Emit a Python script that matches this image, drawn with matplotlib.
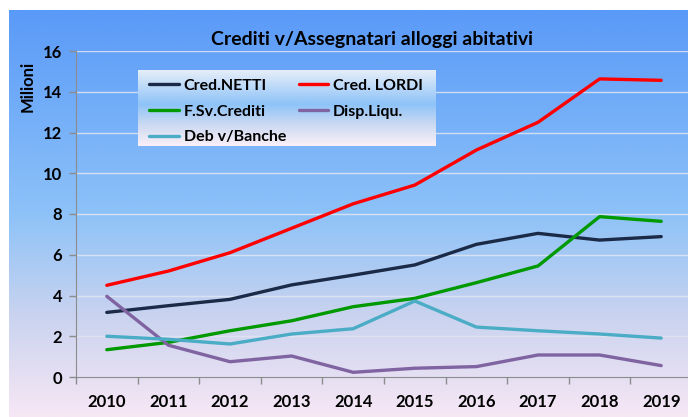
import numpy as np
import matplotlib
matplotlib.use("Agg")
import matplotlib.pyplot as plt
from matplotlib.colors import LinearSegmentedColormap

plt.rcParams['font.family'] = ['Lato', 'DejaVu Sans']

# --- data (milioni) ---
years = ["2010", "2011", "2012", "2013", "2014", "2015", "2016", "2017", "2018", "2019"]
cred_netti = [3.17, 3.5, 3.81, 4.52, 5.0, 5.5, 6.51, 7.05, 6.72, 6.89]
cred_lordi = [4.5, 5.2, 6.1, 7.3, 8.5, 9.42, 11.14, 12.5, 14.63, 14.56]
fsv_crediti = [1.34, 1.7, 2.27, 2.76, 3.45, 3.86, 4.63, 5.45, 7.87, 7.64]
disp_liqu = [3.96, 1.56, 0.75, 1.03, 0.23, 0.43, 0.51, 1.08, 1.08, 0.56]
deb_banche = [2.0, 1.85, 1.62, 2.11, 2.37, 3.73, 2.45, 2.27, 2.11, 1.91]

series = [
    ("Cred.NETTI", cred_netti, "#1B2A47"),
    ("Cred. LORDI", cred_lordi, "#FF0000"),
    ("F.Sv.Crediti", fsv_crediti, "#009A00"),
    ("Disp.Liqu.", disp_liqu, "#8064A2"),
    ("Deb v/Banche", deb_banche, "#4BACC6"),
]

fig = plt.figure(figsize=(6.88, 4.17), dpi=100)

# gradient background
bg = fig.add_axes([9 / 688, 0, 1 - 9 / 688, 407 / 417], zorder=0)
cmap = LinearSegmentedColormap.from_list(
    "bg", [(0, "#5A9AF8"), (0.5, "#8DC2F8"), (0.75, "#C9D3EF"), (1.0, "#F7E7F5")])
bg.imshow(np.linspace(0, 1, 256).reshape(-1, 1), aspect="auto", cmap=cmap,
          extent=[0, 1, 0, 1])
bg.set_axis_off()

ax = fig.add_axes([76 / 688, 40 / 417, 616 / 688, 326 / 417], zorder=1)
ax.patch.set_alpha(0)

x = np.arange(len(years))
lines = {}
for name, vals, col in series:
    lines[name], = ax.plot(x, vals, color=col, lw=2.4, label=name, solid_capstyle="round")

ax.set_xlim(-0.5, len(years) - 0.5)
ax.set_ylim(0, 16)
ax.set_yticks(range(0, 17, 2))
ax.set_xticks(x)
ax.set_xticklabels(years)
ax.set_xticks(np.arange(-0.5, len(years), 1), minor=True)
ax.tick_params(axis="x", which="major", length=0, pad=12)
ax.tick_params(axis="x", which="minor", length=5, color="#8C8C8C", width=1)
ax.tick_params(axis="y", length=5, color="#8C8C8C", width=1, pad=5)
for lab in ax.get_xticklabels() + ax.get_yticklabels():
    lab.set_fontweight("bold")
    lab.set_fontsize(12)

ax.grid(axis="y", color="#E2E6F2", lw=1, alpha=0.85)
ax.set_axisbelow(True)
for s in ["top", "right"]:
    ax.spines[s].set_visible(False)
ax.spines["left"].set_color("#8C8C8C")
ax.spines["bottom"].set_color("#8C8C8C")

ax.set_ylabel("Milioni", fontsize=12, fontweight="bold")
ax.yaxis.set_label_coords(-0.066, 0.89)
fig.text(372 / 688, 1 - 40 / 417, "Crediti v/Assegnatari alloggi abitativi",
         ha="center", va="center", fontsize=14, fontweight="bold")

# legend with gradient box
lb = fig.add_axes([138 / 688, 1 - 146 / 417, 298 / 688, 76 / 417], zorder=2)
lcmap = LinearSegmentedColormap.from_list(
    "lg", [(0, "#FBF0F8"), (0.3, "#C7D8F2"), (0.55, "#8EC3F8"), (1.0, "#E6EEF8")])
lb.imshow(np.linspace(0, 1, 128).reshape(-1, 1), aspect="auto", cmap=lcmap,
          extent=[0, 1, 0, 1], origin="lower")
lb.set_xlim(0, 1)
lb.set_ylim(0, 1)
lb.set_axis_off()
# row-wise order as in the original legend
order = ["Cred.NETTI", "F.Sv.Crediti", "Deb v/Banche", "Cred. LORDI", "Disp.Liqu."]
lb.legend([lines[n] for n in order], order, ncol=2, loc="upper left",
          bbox_to_anchor=(0.0, 1.03), frameon=False, handlelength=1.85,
          handletextpad=0.3, columnspacing=0.8, labelspacing=0.72,
          borderaxespad=0.3, prop={"weight": "bold", "size": 11.5})

fig.savefig("out.png", dpi=100)
